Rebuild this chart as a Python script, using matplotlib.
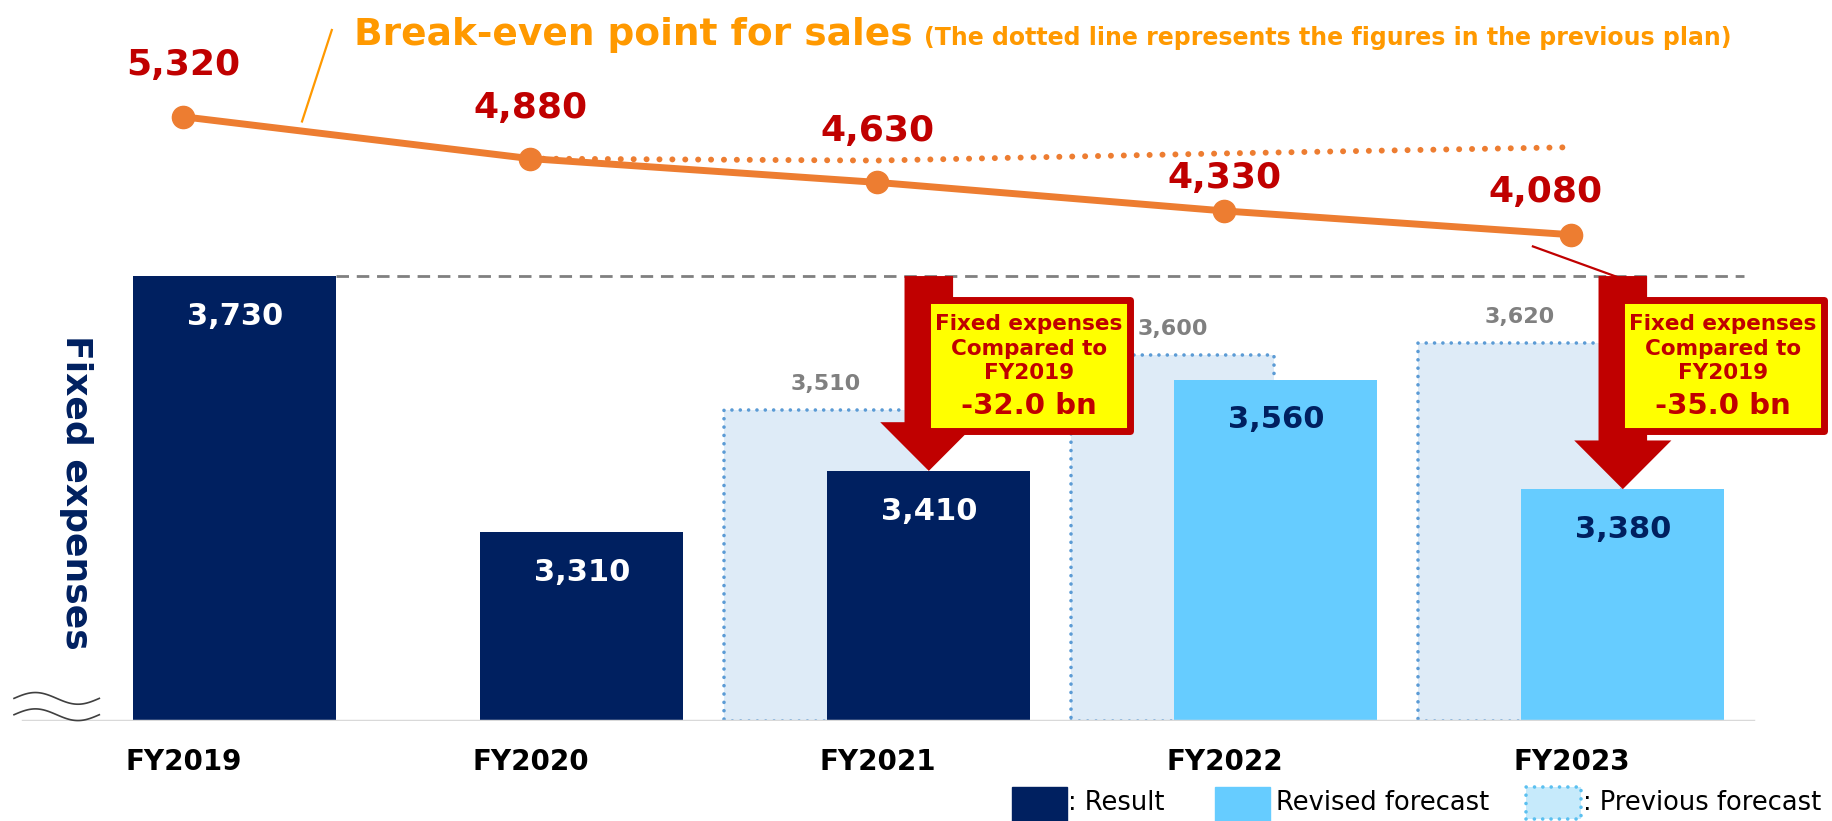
import numpy as np
import matplotlib
matplotlib.use('Agg')
import matplotlib.pyplot as plt
from matplotlib.patches import Rectangle, FancyArrow
from matplotlib.lines import Line2D

# ---------------- data ----------------
categories = ['FY2019', 'FY2020', 'FY2021', 'FY2022', 'FY2023']
result_vals = [3730, 3310, 3410, np.nan, np.nan]
revised_vals = [np.nan, np.nan, np.nan, 3560, 3380]
previous_vals = [np.nan, np.nan, 3510, 3600, 3620]
breakeven = [5320, 4880, 4630, 4330, 4080]
breakeven_prev_plan = [np.nan, 4880, 4860, 4935, 5000]
callout_years = ['FY2021', 'FY2023']
callout_diff = ['-32.0 bn', '-35.0 bn']
legend_labels = [': Result', 'Revised forecast', ': Previous forecast']

plt.rcParams['font.family'] = ['DejaVu Sans']

NAVY = '#002060'
LIGHT = '#66CCFF'
PREV_FILL = '#DEEBF7'
PREV_EDGE = '#5B9BD5'
ORANGE = '#ED7D31'
TITLE_OR = '#FF9900'
DARKRED = '#C00000'

W_REF, H_REF = 1568.0, 703.0
def fx(xs):
    return xs / W_REF
def fy(ys):
    return 1 - ys / H_REF

fig = plt.figure(figsize=(18.32, 8.21), dpi=100)
base = 3000
px_per_unit = 0.5214
x0_ref, step_ref = 157.0, 297.0
def xdata(xs):
    return (xs - x0_ref) / step_ref

ax = fig.add_axes([0, fy(617), 1, 617 / H_REF])
ax.set_xlim(xdata(0), xdata(W_REF))
ax.set_ylim(base, base + 617 / px_per_unit)
for s in ax.spines.values():
    s.set_visible(False)
ax.set_yticks([])

x = np.arange(len(categories))
w = 0.585
off_prev = -0.15
off_main = 0.148

prev_bars = ax.bar(x + off_prev, np.array(previous_vals) - base, bottom=base, width=w,
                   color=PREV_FILL, edgecolor=PREV_EDGE, linewidth=2.6,
                   linestyle=(0, (0.01, 2.3)), zorder=1)
for p in prev_bars:
    p.set_capstyle('round')
ax.bar(x + off_main, np.array(result_vals) - base, bottom=base, width=w, color=NAVY, zorder=2)
ax.bar(x + off_main, np.array(revised_vals) - base, bottom=base, width=w, color=LIGHT, zorder=2)

for xi, v in zip(x, result_vals):
    if not np.isnan(v):
        ax.annotate(f'{int(v):,}', (xi + off_main, v), xytext=(0, -29), textcoords='offset points',
                    ha='center', va='center', color='white', fontsize=22, fontweight='bold', zorder=5)
for xi, v in zip(x, revised_vals):
    if not np.isnan(v):
        ax.annotate(f'{int(v):,}', (xi + off_main, v), xytext=(0, -29), textcoords='offset points',
                    ha='center', va='center', color=NAVY, fontsize=22, fontweight='bold', zorder=5)
for xi, v in zip(x, previous_vals):
    if not np.isnan(v):
        ax.annotate(f'{int(v):,}', (xi + off_prev, v), xytext=(0, 19), textcoords='offset points',
                    ha='center', va='center', color='#808080', fontsize=16, fontweight='bold', zorder=5)

# baseline & dashed reference at FY2019 level
ax.axhline(base, xmin=fx(20), xmax=fx(1500), color='#D9D9D9', lw=2.5, zorder=3)
ax.hlines(result_vals[0], x[0] + off_main + w / 2, xdata(1493), colors='#808080',
          linestyles=(0, (4.5, 2.8)), lw=2, zorder=0)

ax.set_xticks(x, categories)
ax.tick_params(axis='x', length=0, pad=20)
for t in ax.get_xticklabels():
    t.set_fontsize(20)
    t.set_fontweight('bold')
    t.set_color('black')

# arrows and callouts
for yr, diff in zip(callout_years, callout_diff):
    i = categories.index(yr)
    v = result_vals[i] if not np.isnan(result_vals[i]) else revised_vals[i]
    ax_x = i + off_main
    top = result_vals[0]
    arr = FancyArrow(ax_x, top, 0, v - top, width=0.14, head_width=0.28, head_length=80,
                     length_includes_head=True, color=DARKRED, lw=0, zorder=6)
    ax.add_patch(arr)
    bx0, bw = ax_x - 0.005, 0.585
    by0, bh = 3476, 214
    ax.add_patch(Rectangle((bx0, by0), bw, bh, facecolor='#FFFF00', edgecolor=DARKRED,
                           lw=5, joinstyle='round', zorder=7, clip_on=False))
    cx = bx0 + bw / 2
    ax.text(cx, 3611, 'Fixed expenses\nCompared to\nFY2019', ha='center', va='center',
            fontsize=15.5, fontweight='bold', color=DARKRED, linespacing=1.26, zorder=8)
    ax.text(cx, 3517, diff, ha='center', va='center', fontsize=21, fontweight='bold',
            color=DARKRED, zorder=8)

# ---------------- break-even line ----------------
ax2 = ax.twinx()
u_per_px = 1240 / 101.0
ax2.set_ylim(5320 - 517 * u_per_px, 5320 + 100 * u_per_px)
ax2.set_yticks([])
for s in ax2.spines.values():
    s.set_visible(False)
ax2.plot(x, breakeven_prev_plan, color=ORANGE, lw=4.3, linestyle=(0, (0.01, 2.15)),
         dash_capstyle='round', zorder=3)
ax2.plot(x, breakeven, color=ORANGE, lw=5, marker='o', ms=16, zorder=4)
lbl_off = [(0, 37), (0, 36.5), (0, 37), (0, 23.5), (-19, 31)]
for xi, v, (dx, dy) in zip(x, breakeven, lbl_off):
    ax2.annotate(f'{v:,}', (xi, v), xytext=(dx, dy), textcoords='offset points',
                 ha='center', va='center', color=DARKRED, fontsize=26, fontweight='bold')

# title
title = fig.text(fx(303), fy(38.5), 'Break-even point for sales', color=TITLE_OR,
                 fontsize=27, fontweight='bold', va='baseline', ha='left')
fig.canvas.draw()
tb = title.get_window_extent()
fig.text(tb.x1 / fig.bbox.width + 0.006, fy(38.5),
         '(The dotted line represents the figures in the previous plan)', color=TITLE_OR,
         fontsize=17, fontweight='bold', va='baseline', ha='left')
fig.add_artist(Line2D([fx(284), fx(258.5)], [fy(25.7), fy(104)], color=TITLE_OR, lw=1.6))
fig.add_artist(Line2D([fx(1312), fx(1392)], [fy(211), fy(240)], color=DARKRED, lw=1.6))

# y label
fig.text(fx(65), fy(422), 'Fixed expenses', rotation=-90, ha='center', va='center',
         color=NAVY, fontsize=26, fontweight='bold')

# axis break marks
t = np.linspace(0, 1, 60)
for yc in (598, 612):
    fig.add_artist(Line2D(fx(12 + 73 * t), fy(yc - 5 * np.sin(2 * np.pi * t)), color='#404040', lw=1.2))

# legend
sq_w, sq_h = 47 / W_REF, 29 / H_REF
fig.add_artist(Rectangle((fx(866), 0), sq_w, sq_h, transform=fig.transFigure, color=NAVY))
fig.add_artist(Rectangle((fx(1040), 0), sq_w, sq_h, transform=fig.transFigure, color=LIGHT))
pr = Rectangle((fx(1306), fy(701)), sq_w, 27 / H_REF, transform=fig.transFigure, facecolor='#C6EAFB',
               edgecolor='#5BC0F0', lw=2.6, linestyle=(0, (0.01, 2.3)))
pr.set_capstyle('round')
fig.add_artist(pr)
for xs, lab in zip((914, 1092, 1355), legend_labels):
    fig.text(fx(xs), fy(688), lab, ha='left', va='center', fontsize=18.5, color='black')

fig.savefig('out.png', dpi=100)
